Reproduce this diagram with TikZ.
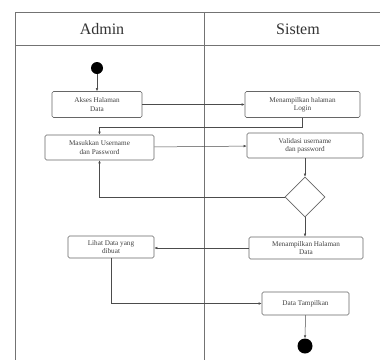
\documentclass[tikz,border=0pt]{standalone}
\usepackage{fontspec}
\setmainfont{Liberation Serif}
\usetikzlibrary{arrows.meta,shapes.geometric}
\begin{document}
\begin{tikzpicture}[x=1pt,y=-1pt,
  lane/.style={draw=black!55,line width=0.9pt},
  act/.style={draw=black!60,rounded corners=1.5pt,line width=0.6pt,align=center,font=\fontsize{7.2}{8.2}\selectfont,inner sep=0pt,text=black!75},
  flow/.style={draw=black!70,line width=0.5pt,-{Latex[length=3pt,width=2.6pt]}},
  hdr/.style={font=\fontsize{16}{18}\selectfont,text=black!80}]
\useasboundingbox (0,0) rectangle (380,360);
\fill[white] (0,0) rectangle (380,360);
% swimlanes
\draw[lane] (380,12) -- (15,12) -- (15,360);
\draw[lane] (15,45) -- (380,45);
\draw[lane] (204,12) -- (204,360);
\node[hdr] (hA) at (102,29) {Admin};
\node[hdr] (hS) at (298,29) {Sistem};
% nodes
\node[circle,fill=black,inner sep=0pt,minimum size=12pt] (start) at (97,68) {};
\node[act,minimum width=90pt,minimum height=26pt] (akses) at (97,104.5) {Akses Halaman\\Data};
\node[act,minimum width=115pt,minimum height=26pt] (login) at (302.5,104.5) {Menampilkan halaman\\Login};
\node[act,minimum width=109pt,minimum height=25pt] (masuk) at (99.5,147.5) {Masukkan Username\\dan Password};
\node[act,minimum width=116pt,minimum height=25pt] (valid) at (305,145.5) {Validasi username\\dan password};
\node[diamond,draw=black!60,line width=0.6pt,minimum width=40pt,minimum height=40pt,inner sep=0pt] (dec) at (305,197) {};
\node[act,minimum width=86pt,minimum height=22pt] (lihat) at (111,247) {Lihat Data yang\\dibuat};
\node[act,minimum width=114pt,minimum height=22pt] (tampil) at (306,248) {Menampilkan Halaman\\Data};
\node[act,minimum width=87pt,minimum height=23pt] (data) at (305.5,303.5) {Data Tampilkan};
\node[circle,fill=black,inner sep=0pt,minimum size=15pt] (end) at (305,346) {};
% flows
\draw[flow] (start) -- (akses);
\draw[flow] (akses) -- (login);
\draw[flow] (login.south) -- ++(0,9.5) -| (masuk.north);
\draw[flow] (masuk) -- (valid);
\draw[flow] (valid) -- (dec);
\draw[flow] (dec.west) -| (masuk.south);
\draw[flow] (dec.south) -- (tampil.north -| dec.south);
\draw[flow] (tampil.west) -- (lihat.east |- tampil.west);
\draw[flow] (lihat.south) |- (data.west);
\draw[flow] (data.south) -- (end.north);
\end{tikzpicture}
\end{document}
